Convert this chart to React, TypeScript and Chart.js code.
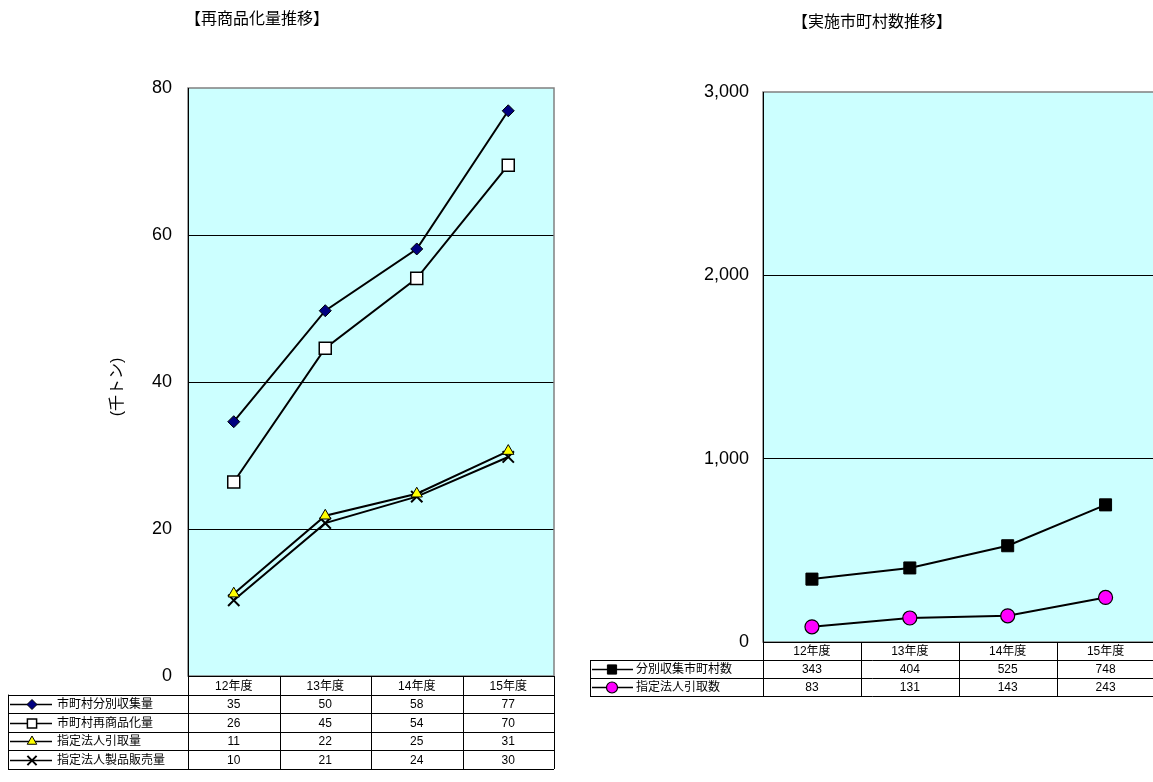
import React, { useEffect, useRef } from "react";
import { Chart, registerables } from "chart.js";
import { drawPoint } from "chart.js/helpers";

Chart.register(...registerables);

// ---------- data ----------
const leftTitle = "【再商品化量推移】";
const rightTitle = "【実施市町村数推移】";
const years = ["12年度", "13年度", "14年度", "15年度"];

const leftNames = ["市町村分別収集量", "市町村再商品化量", "指定法人引取量", "指定法人製品販売量"];
const collected = [34.6, 49.7, 58.1, 76.9];
const recommodified = [26.4, 44.6, 54.1, 69.5];
const corpReceived = [11.2, 21.8, 24.8, 30.6];
const corpSold = [10.3, 20.8, 24.4, 29.8];
const leftAxisTitle = "(千トン)";
const leftMax = 80;
const leftStep = 20;

const rightNames = ["分別収集市町村数", "指定法人引取数"];
const municipalities = [343, 404, 525, 748];
const corpCount = [83, 131, 143, 243];
const rightMax = 3000;
const rightStep = 1000;

// ---------- styling ----------
const FONT = "'Liberation Sans', Arial, 'Noto Sans CJK JP', sans-serif";
const PLOT_BG = "#CCFFFF";

type Marker = {
  pointStyle: any;
  radius: number;
  fill: string;
  stroke: string;
  borderWidth: number;
  keyRadius: number;
};

const leftMarkers: Marker[] = [
  { pointStyle: "rectRot", radius: 6, fill: "#000080", stroke: "#000", borderWidth: 1, keyRadius: 5 },
  { pointStyle: "rect", radius: 8.5, fill: "#FFFFFF", stroke: "#000", borderWidth: 1.5, keyRadius: 6.5 },
  { pointStyle: "triangle", radius: 6.5, fill: "#FFFF00", stroke: "#000", borderWidth: 1, keyRadius: 5.5 },
  { pointStyle: "crossRot", radius: 8, fill: "#000", stroke: "#000", borderWidth: 2, keyRadius: 6.5 },
];
const rightMarkers: Marker[] = [
  { pointStyle: "rect", radius: 8.5, fill: "#000000", stroke: "#000", borderWidth: 1, keyRadius: 6.5 },
  { pointStyle: "circle", radius: 7, fill: "#FF00FF", stroke: "#000", borderWidth: 1.2, keyRadius: 5.5 },
];

type TableCfg = {
  names: string[];
  values: number[][];
  markers: Marker[];
  rowH: number;
  tableLeft: number;
  keyFrom: number;
  keyTo: number;
  keyMarker: number;
  textX: number;
  yTitle?: { text: string; x: number; y: number };
};

function hline(ctx: CanvasRenderingContext2D, x1: number, x2: number, y: number) {
  const yy = Math.round(y) + 0.5;
  ctx.beginPath();
  ctx.moveTo(x1, yy);
  ctx.lineTo(x2, yy);
  ctx.stroke();
}
function vline(ctx: CanvasRenderingContext2D, x: number, y1: number, y2: number) {
  const xx = Math.round(x) + 0.5;
  ctx.beginPath();
  ctx.moveTo(xx, y1);
  ctx.lineTo(xx, y2);
  ctx.stroke();
}

const plotPlugin = {
  id: "plotDecor",
  beforeDraw(chart: any) {
    const { ctx, chartArea: a } = chart;
    ctx.save();
    ctx.fillStyle = PLOT_BG;
    ctx.fillRect(a.left, a.top, a.right - a.left, a.bottom - a.top);
    ctx.restore();
  },
  beforeDatasetsDraw(chart: any) {
    const { ctx, chartArea: a } = chart;
    ctx.save();
    ctx.lineWidth = 1.5;
    ctx.strokeStyle = "#808080";
    ctx.strokeRect(a.left, a.top, a.right - a.left, a.bottom - a.top);
    ctx.strokeStyle = "#000";
    ctx.lineWidth = 1;
    vline(ctx, a.left, a.top, a.bottom);
    ctx.restore();
  },
  afterDraw(chart: any, _args: any, opts: TableCfg) {
    const { ctx, chartArea: a } = chart;
    const L = a.left;
    const R = a.right;
    const B = a.bottom;
    const n = years.length;
    const w = (R - L) / n;
    const rows = opts.names.length;
    const rowH = opts.rowH;
    const bottom = B + rowH * (rows + 1);
    ctx.save();
    ctx.strokeStyle = "#000";
    ctx.lineWidth = 1;
    hline(ctx, L, R, B);
    for (let r = 1; r <= rows + 1; r++) hline(ctx, opts.tableLeft, R, B + rowH * r);
    for (let i = 0; i <= n; i++) vline(ctx, L + w * i, B, bottom);
    vline(ctx, opts.tableLeft, B + rowH, bottom);

    ctx.fillStyle = "#000";
    ctx.textBaseline = "middle";
    ctx.textAlign = "center";
    ctx.font = `12px ${FONT}`;
    for (let i = 0; i < n; i++) {
      ctx.fillText(years[i], L + w * (i + 0.5), B + rowH * 0.5 + 1);
    }
    for (let r = 0; r < rows; r++) {
      const cy = B + rowH * (r + 1.5) + 1;
      ctx.textAlign = "center";
      for (let i = 0; i < n; i++) {
        ctx.fillText(String(Math.round(opts.values[r][i])), L + w * (i + 0.5), cy);
      }
      // legend key
      const m = opts.markers[r];
      const ky = Math.round(cy - 1) + 0.5;
      ctx.strokeStyle = "#000";
      ctx.lineWidth = 1.5;
      ctx.beginPath();
      ctx.moveTo(opts.tableLeft + opts.keyFrom, ky);
      ctx.lineTo(opts.tableLeft + opts.keyTo, ky);
      ctx.stroke();
      ctx.fillStyle = m.fill;
      ctx.strokeStyle = m.stroke;
      ctx.lineWidth = m.borderWidth;
      drawPoint(ctx, { pointStyle: m.pointStyle, radius: m.keyRadius, rotation: 0, borderWidth: m.borderWidth } as any, opts.tableLeft + opts.keyMarker, ky);
      ctx.fillStyle = "#000";
      ctx.strokeStyle = "#000";
      ctx.lineWidth = 1;
      ctx.textAlign = "left";
      ctx.fillText(opts.names[r], opts.tableLeft + opts.textX, cy);
    }
    if (opts.yTitle) {
      ctx.save();
      ctx.translate(opts.yTitle.x, opts.yTitle.y);
      ctx.rotate(-Math.PI / 2);
      ctx.textAlign = "center";
      ctx.textBaseline = "middle";
      ctx.font = `16px ${FONT}`;
      ctx.fillText(opts.yTitle.text, 0, 0);
      ctx.restore();
    }
    ctx.restore();
  },
};

function makeDataset(label: string, data: number[], m: Marker) {
  return {
    label,
    data,
    borderColor: "#000",
    borderWidth: 2,
    pointStyle: m.pointStyle,
    pointRadius: m.radius,
    pointHoverRadius: m.radius,
    pointBackgroundColor: m.fill,
    pointBorderColor: m.stroke,
    pointBorderWidth: m.borderWidth,
    tension: 0,
    fill: false,
  };
}

function buildConfig(opts: {
  datasets: any[];
  max: number;
  step: number;
  axisWidth: number;
  padding: any;
  tickFont: number;
  tickPad: number;
  table: TableCfg;
  fmt: (v: number) => string;
}): any {
  return {
    type: "line",
    data: { labels: years, datasets: opts.datasets },
    plugins: [plotPlugin],
    options: {
      responsive: false,
      animation: false,
      events: [],
      layout: { padding: opts.padding },
      plugins: {
        legend: { display: false },
        title: { display: false },
        tooltip: { enabled: false },
        plotDecor: opts.table,
      },
      scales: {
        x: { type: "category", display: false, offset: true },
        y: {
          min: 0,
          max: opts.max,
          afterFit: (s: any) => {
            s.width = opts.axisWidth;
          },
          ticks: {
            stepSize: opts.step,
            padding: opts.tickPad,
            color: "#000",
            font: { family: FONT, size: opts.tickFont },
            callback: (v: any) => opts.fmt(Number(v)),
          },
          grid: {
            drawTicks: false,
            lineWidth: 1,
            color: (c: any) =>
              c.tick && (c.tick.value === 0 || c.tick.value === opts.max) ? "rgba(0,0,0,0)" : "#000",
          },
          border: { display: false },
        },
      },
    },
  };
}

function ChartCanvas({ width, height, left, build }: { width: number; height: number; left: number; build: () => any }) {
  const ref = useRef<HTMLCanvasElement | null>(null);
  useEffect(() => {
    if (!ref.current) return;
    const chart = new Chart(ref.current, build());
    return () => chart.destroy();
  }, []);
  return (
    <canvas
      ref={ref}
      width={width}
      height={height}
      style={{ position: "absolute", left, top: 0, width, height }}
    />
  );
}

export default function App() {
  const buildLeft = () =>
    buildConfig({
      datasets: [
        makeDataset(leftNames[0], collected, leftMarkers[0]),
        makeDataset(leftNames[1], recommodified, leftMarkers[1]),
        makeDataset(leftNames[2], corpReceived, leftMarkers[2]),
        makeDataset(leftNames[3], corpSold, leftMarkers[3]),
      ],
      max: leftMax,
      step: leftStep,
      axisWidth: 188,
      padding: { left: 0, top: 88, right: 16, bottom: 106 },
      tickFont: 18,
      tickPad: 16,
      fmt: (v) => String(v),
      table: {
        names: leftNames,
        values: [collected, recommodified, corpReceived, corpSold],
        markers: leftMarkers,
        rowH: 18.6,
        tableLeft: 8,
        keyFrom: 2,
        keyTo: 44,
        keyMarker: 24,
        textX: 49,
        yTitle: { text: leftAxisTitle, x: 118, y: 387 },
      },
    });
  const buildRight = () =>
    buildConfig({
      datasets: [
        makeDataset(rightNames[0], municipalities, rightMarkers[0]),
        makeDataset(rightNames[1], corpCount, rightMarkers[1]),
      ],
      max: rightMax,
      step: rightStep,
      axisWidth: 193,
      padding: { left: 0, top: 92, right: 1, bottom: 140 },
      tickFont: 18,
      tickPad: 14,
      fmt: (v) => v.toLocaleString("en-US"),
      table: {
        names: rightNames,
        values: [municipalities, corpCount],
        markers: rightMarkers,
        rowH: 18,
        tableLeft: 20,
        keyFrom: 2,
        keyTo: 43,
        keyMarker: 22,
        textX: 46,
      },
    });

  const titleStyle: React.CSSProperties = {
    position: "absolute",
    font: `16px 'Noto Sans CJK JP', sans-serif`,
    color: "#000",
    whiteSpace: "nowrap",
    transform: "translate(-50%, -50%)",
    lineHeight: "20px",
  };

  return (
    <div style={{ position: "absolute", left: 0, top: 0, width: 1153, height: 782, background: "#fff", overflow: "hidden" }}>
      <ChartCanvas width={570} height={782} left={0} build={buildLeft} />
      <ChartCanvas width={594} height={782} left={570} build={buildRight} />
      <div style={{ ...titleStyle, left: 257, top: 17 }}>{leftTitle}</div>
      <div style={{ ...titleStyle, left: 872, top: 20 }}>{rightTitle}</div>
    </div>
  );
}
